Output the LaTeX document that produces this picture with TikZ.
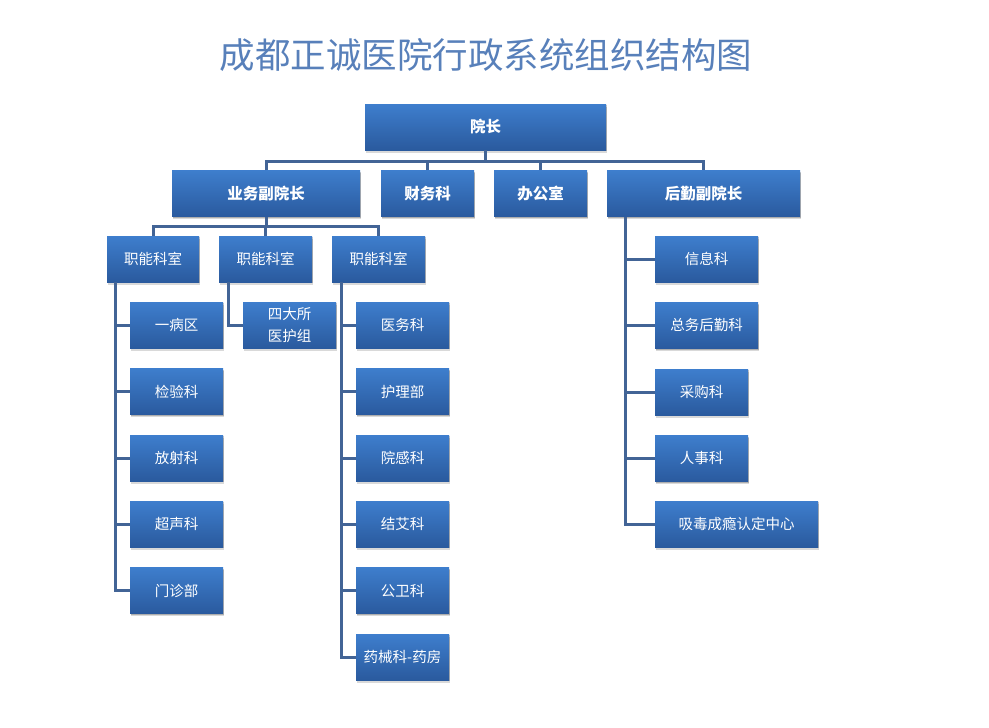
\documentclass[tikz,border=0pt]{standalone}
\usepackage{fontspec}
\setmainfont{Noto Sans CJK SC}
\newfontfamily\cjk{Noto Sans CJK SC}
\usetikzlibrary{shadows,calc}
\definecolor{boxtop}{RGB}{62,126,205}
\definecolor{boxbot}{RGB}{42,90,158}
\definecolor{connc}{RGB}{66,100,150}
\definecolor{titlec}{RGB}{88,128,186}
\tikzset{
  box/.style={rectangle, top color=boxtop, bottom color=boxbot, draw=none,
    text=white, align=center, inner sep=1pt,
    font=\cjk\fontsize{14.5}{18}\selectfont,
    drop shadow={shadow xshift=1pt, shadow yshift=-2.5pt, opacity=0.15, fill=black},
    drop shadow={shadow xshift=0.5pt, shadow yshift=-1.2pt, opacity=0.2, fill=black}},
  bbox/.style={box, font=\cjk\bfseries\fontsize{15.5}{18}\selectfont},
  conn/.style={draw=connc, line width=3pt},
}
\begin{document}
\begin{tikzpicture}[x=1pt,y=-1pt]
\useasboundingbox (0,0) rectangle (989,728);
\node[font=\cjk\fontsize{35.5}{38}\selectfont, text=titlec] (title) at (486,55) {成都正诚医院行政系统组织结构图};

\coordinate (b0) at (485.5,161);
\coordinate (b1) at (266,226);

\node[bbox, minimum width=241pt, minimum height=46pt] (yz) at (485.5,127) {院长};
\node[bbox, minimum width=188pt, minimum height=46pt] (yw) at (266,193.5) {业务副院长};
\node[bbox, minimum width=93pt, minimum height=46pt] (cw) at (427.5,193.5) {财务科};
\node[bbox, minimum width=93pt, minimum height=46pt] (bg) at (540.5,193.5) {办公室};
\node[bbox, minimum width=193pt, minimum height=46pt] (hq) at (703.5,193.5) {后勤副院长};

\node[box, minimum width=92pt, minimum height=46pt] (z1) at (153,259) {职能科室};
\node[box, minimum width=93pt, minimum height=46pt] (z2) at (265.5,259) {职能科室};
\node[box, minimum width=93pt, minimum height=46pt] (z3) at (378.5,259) {职能科室};

\node[box, minimum width=93pt, minimum height=46pt] (a1) at (176.5,325) {一病区};
\node[box, minimum width=93pt, minimum height=46pt] (a2) at (176.5,391.5) {检验科};
\node[box, minimum width=93pt, minimum height=46pt] (a3) at (176.5,458) {放射科};
\node[box, minimum width=93pt, minimum height=46pt] (a4) at (176.5,524) {超声科};
\node[box, minimum width=93pt, minimum height=46pt] (a5) at (176.5,590.5) {门诊部};

\node[box, minimum width=93pt, minimum height=46pt, font=\cjk\fontsize{14.5}{22}\selectfont] (s1) at (289.5,325) {四大所\\医护组};

\node[box, minimum width=93pt, minimum height=46pt] (c1) at (402.5,325) {医务科};
\node[box, minimum width=93pt, minimum height=46pt] (c2) at (402.5,391.5) {护理部};
\node[box, minimum width=93pt, minimum height=46pt] (c3) at (402.5,458) {院感科};
\node[box, minimum width=93pt, minimum height=46pt] (c4) at (402.5,524) {结艾科};
\node[box, minimum width=93pt, minimum height=46pt] (c5) at (402.5,590.5) {公卫科};
\node[box, minimum width=93pt, minimum height=46pt] (c6) at (402.5,657) {药械科-药房};

\node[box, minimum width=103pt, minimum height=46pt] (r1) at (706.5,259) {信息科};
\node[box, minimum width=103pt, minimum height=46pt] (r2) at (706.5,325.5) {总务后勤科};
\node[box, minimum width=93pt, minimum height=46pt] (r3) at (701.5,392) {采购科};
\node[box, minimum width=93pt, minimum height=46pt] (r4) at (701.5,458.5) {人事科};
\node[box, minimum width=163pt, minimum height=46pt] (r5) at (736.5,524) {吸毒成瘾认定中心};

% top level connectors
\draw[conn] (yz.south) -- (b0);
\draw[conn] (yw.north) |- (b0) -| (hq.north);
\draw[conn] (cw.north) -- (cw.north |- b0);
\draw[conn] (bg.north) -- (bg.north |- b0);

% level 2
\draw[conn] (yw.south) -- (b1);
\draw[conn] (z1.north) |- (b1) -| (z3.north);
\draw[conn] (z2.north) -- (z2.north |- b1);

% left column
\coordinate (l1) at ([xshift=8.5pt]z1.south west);
\draw[conn] (l1) |- (a5.west);
\foreach \n in {a1,a2,a3,a4} {\draw[conn] (l1 |- \n.west) -- (\n.west);}

% middle
\coordinate (l2) at ([xshift=10pt]z2.south west);
\draw[conn] (l2) |- (s1.west);

% right-middle column
\coordinate (l3) at ([xshift=9.5pt]z3.south west);
\draw[conn] (l3) |- (c6.west);
\foreach \n in {c1,c2,c3,c4,c5} {\draw[conn] (l3 |- \n.west) -- (\n.west);}

% right column
\coordinate (l4) at ([xshift=19pt]hq.south west);
\draw[conn] (l4) |- (r5.west);
\foreach \n in {r1,r2,r3,r4} {\draw[conn] (l4 |- \n.west) -- (\n.west);}
\end{tikzpicture}
\end{document}
